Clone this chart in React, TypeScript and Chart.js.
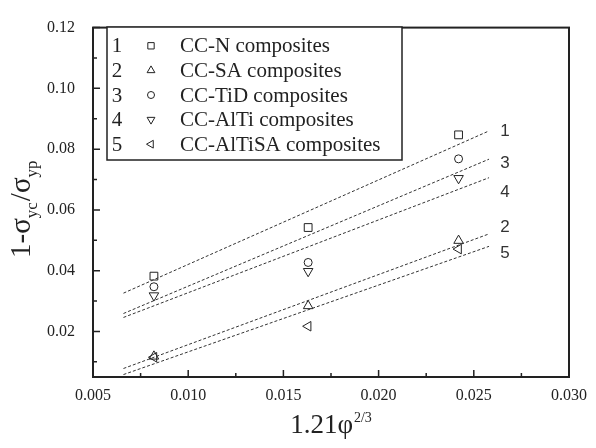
import React, { useEffect, useRef } from 'react';
import { Chart, registerables } from 'chart.js';
import { drawPoint } from 'chart.js/helpers';

Chart.register(...registerables);

// ---- data ----
const pointX = [0.0082, 0.0163, 0.0242];
const ccN = [0.0382, 0.0542, 0.0847];
const ccSA = [0.0118, 0.0284, 0.0499];
const ccTiD = [0.0347, 0.0427, 0.0768];
const ccAlTi = [0.0318, 0.0398, 0.0704];
const ccAlTiSA = [0.0115, 0.0217, 0.0471];

const fitX = [0.0066, 0.0258];
const fitN = [0.0326, 0.086];
const fitSA = [0.0078, 0.0521];
const fitTiD = [0.0259, 0.0767];
const fitAlTi = [0.0246, 0.0706];
const fitAlTiSA = [0.0058, 0.048];

const seriesNumbers = ['1', '2', '3', '4', '5'];
const seriesLabels = [
  'CC-N composites',
  'CC-SA composites',
  'CC-TiD composites',
  'CC-AlTi composites',
  'CC-AlTiSA composites',
];

const xTicks = [0.005, 0.0075, 0.01, 0.0125, 0.015, 0.0175, 0.02, 0.0225, 0.025, 0.0275, 0.03];
const yTicks = [0.01, 0.02, 0.03, 0.04, 0.05, 0.06, 0.07, 0.08, 0.09, 0.1, 0.11, 0.12];

// ---- styles ----
const INK = '#222';
const SERIF = "'Liberation Serif', 'Times New Roman', serif";
const SANS = "'Liberation Sans', Arial, sans-serif";
const markerStyles = [
  { pointStyle: 'rect', rotation: 0, radius: 5.5 },
  { pointStyle: 'triangle', rotation: 0, radius: 5.5 },
  { pointStyle: 'circle', rotation: 0, radius: 4 },
  { pointStyle: 'triangle', rotation: 180, radius: 5.5 },
  { pointStyle: 'triangle', rotation: 270, radius: 5.5 },
];
const lineLabelOffsets = [0, -7, 4, 15, 7];

const isMajorX = (v: number) => Math.round(v * 10000) % 50 === 0;
const isMajorY = (v: number) => Math.round(v * 1000) % 20 === 0;

const pts = (xs: number[], ys: number[]) => xs.map((x, i) => ({ x, y: ys[i] }));

const decorPlugin = {
  id: 'decor',
  afterDraw(chart: any) {
    const ctx: CanvasRenderingContext2D = chart.ctx;
    const xs = chart.scales.x;
    const ys = chart.scales.y;
    const { left, right, top, bottom } = chart.chartArea;
    ctx.save();

    // frame
    ctx.strokeStyle = INK;
    ctx.lineWidth = 2;
    ctx.strokeRect(left, top, right - left, bottom - top);

    // inward ticks
    ctx.lineWidth = 1.5;
    ctx.beginPath();
    xTicks.forEach((v) => {
      const px = xs.getPixelForValue(v);
      ctx.moveTo(px, bottom);
      ctx.lineTo(px, bottom - (isMajorX(v) ? 7 : 4));
    });
    yTicks.forEach((v) => {
      const py = ys.getPixelForValue(v);
      ctx.moveTo(left, py);
      ctx.lineTo(left + (isMajorY(v) ? 7 : 4), py);
    });
    ctx.stroke();

    // fit-line number labels
    const fits = chart.data.datasets.filter((d: any) => d.showLine);
    ctx.fillStyle = '#333';
    ctx.font = `17px ${SANS}`;
    ctx.textAlign = 'center';
    ctx.textBaseline = 'middle';
    fits.forEach((d: any, i: number) => {
      const last = d.data[d.data.length - 1];
      const px = xs.getPixelForValue(last.x) + 16;
      const py = ys.getPixelForValue(last.y) + lineLabelOffsets[i];
      ctx.fillText(d.lineNumber, px, py);
    });

    // x title: 1.21φ^(2/3)
    ctx.fillStyle = INK;
    ctx.textAlign = 'left';
    ctx.textBaseline = 'alphabetic';
    const xMain = '1.21φ';
    const xSup = '2/3';
    ctx.font = `27px ${SERIF}`;
    const w1 = ctx.measureText(xMain).width;
    ctx.font = `14px ${SERIF}`;
    const w2 = ctx.measureText(xSup).width;
    const cx = (left + right) / 2;
    const sx = cx - (w1 + w2 + 1) / 2;
    ctx.font = `27px ${SERIF}`;
    ctx.fillText(xMain, sx, 433);
    ctx.font = `14px ${SERIF}`;
    ctx.fillText(xSup, sx + w1 + 1, 422);

    // y title: 1-σyc/σyp (rotated)
    ctx.save();
    ctx.translate(30, 258);
    ctx.rotate(-Math.PI / 2);
    const parts: [string, boolean][] = [
      ['1-σ', false],
      ['yc', true],
      ['/', false],
      ['σ', false],
      ['yp', true],
    ];
    let pos = 0;
    parts.forEach(([t, sub]) => {
      ctx.font = sub ? `17px ${SERIF}` : `29px ${SERIF}`;
      ctx.fillText(t, pos, sub ? 7 : 0);
      pos += ctx.measureText(t).width + (sub ? 1 : 0);
    });
    ctx.restore();

    // legend
    const bx = 107, by = 27, bw = 295, bh = 133;
    ctx.fillStyle = '#fff';
    ctx.fillRect(bx, by, bw, bh);
    ctx.strokeStyle = INK;
    ctx.lineWidth = 1.5;
    ctx.strokeRect(bx, by, bw, bh);
    const marks = chart.data.datasets.filter((d: any) => !d.showLine);
    marks.forEach((d: any, i: number) => {
      const ry = 45.8 + i * 24.6;
      ctx.fillStyle = INK;
      ctx.font = `21px ${SERIF}`;
      ctx.textBaseline = 'middle';
      ctx.textAlign = 'center';
      ctx.fillText(seriesNumbers[i], 117, ry + 1);
      ctx.textAlign = 'left';
      ctx.fillText(d.label, 180, ry + 1);
      ctx.strokeStyle = INK;
      ctx.fillStyle = 'rgba(0,0,0,0)';
      ctx.lineWidth = 1;
      drawPoint(ctx, {
        pointStyle: d.pointStyle,
        rotation: d.rotation,
        radius: d.pointStyle === 'circle' ? 3.5 : 4.5,
        borderWidth: 1,
      } as any, 151, ry);
    });

    ctx.restore();
  },
};

export default function App() {
  const ref = useRef<HTMLCanvasElement>(null);

  useEffect(() => {
    if (!ref.current) return;
    const markerData = [ccN, ccSA, ccTiD, ccAlTi, ccAlTiSA];
    const fitData = [fitN, fitSA, fitTiD, fitAlTi, fitAlTiSA];

    const fitSets = fitData.map((f, i) => ({
      label: 'fit ' + seriesNumbers[i],
      lineNumber: seriesNumbers[i],
      data: pts(fitX, f),
      showLine: true,
      borderColor: '#333',
      borderWidth: 1,
      borderDash: [3, 2],
      pointRadius: 0,
      fill: false,
    }));
    const markSets = markerData.map((m, i) => ({
      label: seriesLabels[i],
      data: pts(pointX, m),
      showLine: false,
      pointStyle: markerStyles[i].pointStyle,
      rotation: markerStyles[i].rotation,
      pointRotation: markerStyles[i].rotation,
      pointRadius: markerStyles[i].radius,
      pointBorderWidth: 1,
      borderColor: INK,
      pointBorderColor: INK,
      backgroundColor: 'rgba(0,0,0,0)',
      pointBackgroundColor: 'rgba(0,0,0,0)',
    }));

    const chart = new Chart(ref.current, {
      type: 'scatter',
      data: { datasets: [...fitSets, ...markSets] as any },
      options: {
        animation: false,
        responsive: false,
        devicePixelRatio: 1,
        layout: { padding: { top: 18, right: 21, left: 0, bottom: 0 } },
        plugins: { legend: { display: false }, tooltip: { enabled: false } },
        scales: {
          x: {
            type: 'linear',
            min: 0.005,
            max: 0.03,
            grid: { display: false, drawTicks: false },
            border: { display: false },
            afterBuildTicks: (s: any) => {
              s.ticks = xTicks.map((v) => ({ value: v }));
            },
            afterFit: (s: any) => {
              s.height = 71;
            },
            ticks: {
              autoSkip: false,
              maxRotation: 0,
              padding: 9,
              color: INK,
              font: { family: SERIF, size: 16 },
              callback: (v: any) => (isMajorX(Number(v)) ? Number(v).toFixed(3) : ''),
            },
          },
          y: {
            type: 'linear',
            min: 0.005,
            max: 0.12,
            grid: { display: false, drawTicks: false },
            border: { display: false },
            afterBuildTicks: (s: any) => {
              s.ticks = yTicks.map((v) => ({ value: v }));
            },
            afterFit: (s: any) => {
              s.width = 93;
            },
            ticks: {
              autoSkip: false,
              padding: 18,
              color: INK,
              font: { family: SERIF, size: 16 },
              callback: (v: any) => (isMajorY(Number(v)) ? Number(v).toFixed(2) : ''),
            },
          },
        },
      },
      plugins: [decorPlugin],
    });
    return () => chart.destroy();
  }, []);

  return (
    <div style={{ position: 'absolute', left: 0, top: 0, width: 596, height: 448, background: '#fff' }}>
      <canvas ref={ref} width={596} height={448} style={{ display: 'block', width: 596, height: 448 }} />
    </div>
  );
}
